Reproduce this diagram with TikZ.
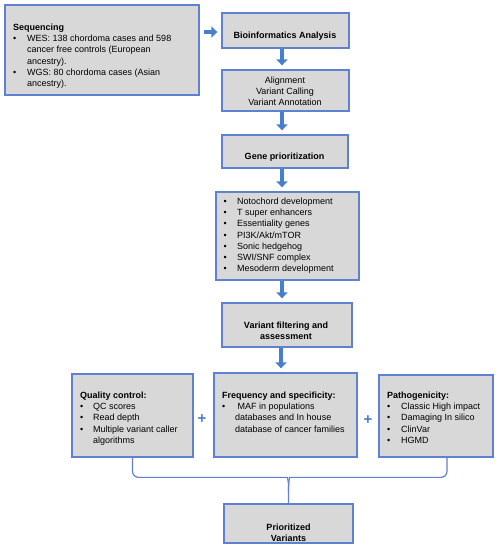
\documentclass[tikz,border=0pt]{standalone}
\usepackage{fontspec}
\setmainfont{Liberation Sans}
\usetikzlibrary{arrows.meta,calc}
\definecolor{boxfill}{RGB}{216,216,216}
\definecolor{boxline}{RGB}{96,128,210}
\definecolor{arrowblue}{RGB}{72,126,206}
\tikzset{
  box/.style={draw=boxline, fill=boxfill, line width=1.3pt, inner sep=0pt},
  arr/.style={draw=arrowblue, line width=3.4pt, -{Triangle[length=6pt,width=11pt]}, shorten >=4pt},
  brace/.style={draw=boxline, line width=1.2pt},
  txt/.style={inner sep=0pt, font=\fontsize{9}{11.3}\selectfont},
  plus/.style={inner sep=0pt, text=arrowblue, font=\fontsize{15}{15}\selectfont\bfseries}
}
\begin{document}
\begin{tikzpicture}[x=1pt,y=-1pt]
\useasboundingbox (0,0) rectangle (500,550);
% boxes
\node[box, minimum width=194pt, minimum height=90pt] (seq) at (102,50) {};
\node[box, minimum width=127pt, minimum height=35pt] (bio) at (285.5,30.5) {};
\node[box, minimum width=127pt, minimum height=41pt] (align) at (285.5,90.5) {};
\node[box, minimum width=126pt, minimum height=33pt] (gene) at (285,151.5) {};
\node[box, minimum width=143pt, minimum height=88pt] (noto) at (287.5,236) {};
\node[box, minimum width=130pt, minimum height=44pt] (filt) at (287,325) {};
\node[box, minimum width=121pt, minimum height=83pt] (qc) at (132.5,415.5) {};
\node[box, minimum width=143pt, minimum height=84pt] (freq) at (285.5,415) {};
\node[box, minimum width=114pt, minimum height=82pt] (path) at (436,416) {};
\node[box, minimum width=129pt, minimum height=39pt] (prio) at (288.5,523.5) {};
% texts
\node[txt, anchor=north west] (seqt) at (13,22) {\begin{tabular}{@{}p{14pt}@{}l@{}}
\multicolumn{2}{@{}l}{\textbf{Sequencing}}\\
\textbullet & WES: 138 chordoma cases and 598\\
 & cancer free controls (European\\
 & ancestry).\\
\textbullet & WGS: 80 chordoma cases (Asian\\
 & ancestry).
\end{tabular}};
\node[txt, anchor=base] (biot) at (285,38) {\textbf{Bioinformatics Analysis}};
\node[txt, anchor=north] (alignt) at (285,75) {\begin{tabular}{@{}c@{}}Alignment\\Variant Calling\\Variant Annotation\end{tabular}};
\node[txt, anchor=base] (genet) at (284.5,159) {\textbf{Gene prioritization}};
\node[txt, anchor=north west] (notot) at (223.5,196) {\begin{tabular}{@{}p{13.5pt}@{}l@{}}
\textbullet & Notochord development\\
\textbullet & T super enhancers\\
\textbullet & Essentiality genes\\
\textbullet & PI3K/Akt/mTOR\\
\textbullet & Sonic hedgehog\\
\textbullet & SWI/SNF complex\\
\textbullet & Mesoderm development
\end{tabular}};
\node[txt, anchor=north] (filtt) at (286,320) {\begin{tabular}{@{}c@{}}\textbf{Variant filtering and}\\\textbf{assessment}\end{tabular}};
\node[txt, anchor=north west] (qct) at (80,390) {\begin{tabular}{@{}p{13pt}@{}l@{}}
\multicolumn{2}{@{}l}{\textbf{Quality control:}}\\
\textbullet & QC scores\\
\textbullet & Read depth\\
\textbullet & Multiple variant caller\\
 & algorithms
\end{tabular}};
\node[txt, anchor=north west] (freqt) at (222,390) {\begin{tabular}{@{}p{13pt}@{}l@{}}
\multicolumn{2}{@{}l}{\textbf{Frequency and specificity:}}\\
\textbullet & \ MAF in populations\\
 & databases and In house\\
 & database of cancer families
\end{tabular}};
\node[txt, anchor=north west] (patht) at (387,390) {\begin{tabular}{@{}p{14pt}@{}l@{}}
\multicolumn{2}{@{}l}{\textbf{Pathogenicity:}}\\
\textbullet & Classic High impact\\
\textbullet & Damaging In silico\\
\textbullet & ClinVar\\
\textbullet & HGMD
\end{tabular}};
\node[txt, anchor=north] (priot) at (288.5,522) {\begin{tabular}{@{}c@{}}\textbf{Prioritized}\\\textbf{Variants}\end{tabular}};
% plus signs
\node[plus] (plus1) at (202,419) {+};
\node[plus] (plus2) at (368,420) {+};
% arrows
\draw[arr, shorten <=4pt] (seq.east |- 0,32) -- (bio.west |- 0,32);
\draw[arr] ([xshift=-3.5pt]bio.south) -- ([xshift=-3.5pt]bio.south |- align.north);
\draw[arr] ([xshift=-3.5pt]align.south) -- ([xshift=-3.5pt]align.south |- gene.north);
\draw[arr] ([xshift=-3pt]gene.south) -- ([xshift=-3pt]gene.south |- noto.north);
\draw[arr] ([xshift=-5.5pt]noto.south) -- ([xshift=-5.5pt]noto.south |- filt.north);
\draw[arr] ([xshift=-6pt]filt.south) -- ([xshift=-6pt]filt.south |- freq.north);
% brace
\coordinate (cusp) at ($(prio.north)+(0,-13)$);
\coordinate (pr) at ($(path.south)+(11,0)$);
\draw[brace, rounded corners=6pt] (qc.south) |- ($(cusp)+(-7,-13)$) .. controls ($(cusp)+(-1,-13)$) and ($(cusp)+(0,-7)$) .. (cusp) -- (prio.north);
\draw[brace, rounded corners=6pt] (pr) |- ($(cusp)+(7,-13)$) .. controls ($(cusp)+(1,-13)$) and ($(cusp)+(0,-7)$) .. (cusp);
\end{tikzpicture}
\end{document}
